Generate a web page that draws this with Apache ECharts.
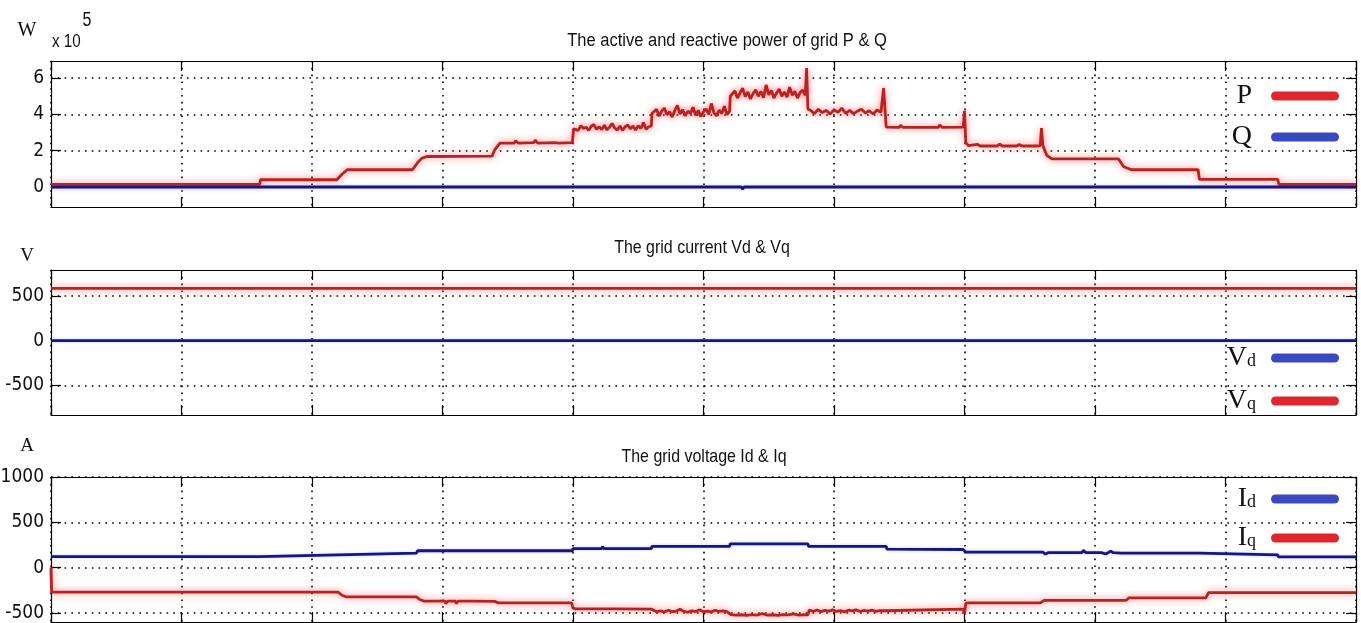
<!DOCTYPE html>
<html>
<head>
<meta charset="utf-8">
<script src="https://cdn.jsdelivr.net/npm/echarts@6/dist/echarts.min.js"></script>
<style>
  html, body { margin: 0; padding: 0; background: #fff; }
  #chart { width: 1361px; height: 623px; }
</style>
</head>
<body>
<div id="chart"></div>
<script>
// ---- Grid active / reactive power, [time s, value x 1e5 W] ----
const powerP = [
  [0, 0.15], [1.60, 0.15], [1.605, 0.40], [2.19, 0.40], [2.23, 0.70], [2.27, 0.95],
  [2.77, 0.95], [2.81, 1.35], [2.84, 1.58], [2.88, 1.68], [3.38, 1.70], [3.40, 2.05],
  [3.44, 2.42], [3.55, 2.42], [3.56, 2.55], [3.58, 2.42], [3.70, 2.44], [3.71, 2.58],
  [3.73, 2.42], [3.86, 2.44], [3.87, 2.55], [3.89, 2.42], [3.995, 2.45],
  [4.005, 3.20], [4.02, 3.28], [4.04, 3.12], [4.06, 3.38], [4.08, 3.22], [4.10, 3.30],
  [4.12, 3.12], [4.14, 3.35], [4.16, 3.44], [4.18, 3.18], [4.20, 3.32], [4.22, 3.16],
  [4.24, 3.40], [4.26, 3.15], [4.28, 3.30], [4.30, 3.50], [4.32, 3.24], [4.34, 3.14],
  [4.36, 3.36], [4.38, 3.12], [4.40, 3.32], [4.42, 3.42], [4.44, 3.20], [4.46, 3.36],
  [4.48, 3.14], [4.50, 3.38], [4.52, 3.22], [4.54, 3.55], [4.56, 3.18], [4.58, 3.32],
  [4.60, 3.36],
  [4.605, 4.05], [4.62, 4.10], [4.64, 4.28], [4.66, 3.90], [4.68, 4.18], [4.70, 4.35],
  [4.72, 3.98], [4.74, 4.15], [4.76, 3.85], [4.78, 4.22], [4.80, 4.50], [4.82, 4.02],
  [4.84, 4.26], [4.86, 3.92], [4.88, 4.18], [4.90, 4.05], [4.92, 4.40], [4.94, 3.95],
  [4.96, 4.22], [4.98, 3.88], [5.00, 4.15], [5.02, 4.30], [5.04, 4.00], [5.06, 4.60],
  [5.08, 4.08], [5.10, 3.92], [5.12, 4.24], [5.14, 4.04], [5.16, 4.45], [5.18, 3.98],
  [5.20, 4.18],
  [5.205, 5.00], [5.22, 5.08], [5.24, 5.30], [5.26, 4.90], [5.28, 5.18], [5.30, 5.45],
  [5.32, 4.98], [5.34, 5.24], [5.36, 4.85], [5.38, 5.15], [5.40, 5.35], [5.42, 5.00],
  [5.44, 5.26], [5.46, 4.92], [5.48, 5.62], [5.50, 5.08], [5.52, 5.32], [5.54, 4.90],
  [5.56, 5.18], [5.58, 5.40], [5.60, 5.00], [5.62, 5.24], [5.64, 4.95], [5.66, 5.50],
  [5.68, 5.06], [5.70, 5.28], [5.72, 4.90], [5.74, 5.20], [5.76, 5.34], [5.78, 5.05],
  [5.79, 6.55], [5.80, 4.30],
  [5.82, 4.22], [5.85, 4.04], [5.88, 4.28], [5.91, 4.10], [5.94, 4.22], [5.97, 4.02],
  [6.00, 4.25], [6.03, 4.12], [6.06, 4.34], [6.09, 4.06], [6.12, 4.22], [6.15, 4.04],
  [6.18, 4.18], [6.21, 4.28], [6.24, 4.08], [6.27, 4.20], [6.30, 4.02], [6.33, 4.24],
  [6.36, 4.12], [6.38, 5.45], [6.40, 3.30],
  [6.50, 3.28], [6.51, 3.40], [6.53, 3.28], [6.62, 3.28], [6.63, 3.38], [6.65, 3.28],
  [6.80, 3.28], [6.81, 3.42], [6.83, 3.28], [6.99, 3.30], [7.00, 4.20], [7.01, 2.45],
  [7.03, 2.28], [7.10, 2.35], [7.12, 2.26], [7.25, 2.26], [7.27, 2.36], [7.29, 2.26],
  [7.40, 2.26], [7.42, 2.34], [7.44, 2.26], [7.55, 2.26], [7.56, 2.36], [7.58, 2.28],
  [7.59, 3.25], [7.60, 2.30], [7.63, 1.75], [7.67, 1.55], [8.18, 1.55], [8.22, 1.12],
  [8.28, 0.95], [8.48, 0.95], [8.49, 1.02], [8.51, 0.95], [8.79, 0.95], [8.80, 0.42],
  [9.40, 0.42], [9.41, 0.15], [10, 0.15]
];
const powerQ = [
  [0, 0], [5.29, 0], [5.30, -0.12], [5.31, 0], [5.65, 0], [5.66, -0.10], [5.67, 0],
  [5.73, 0], [5.74, -0.10], [5.75, 0], [10, 0]
];

// ---- Grid dq voltages, [time s, V] ----
const voltVd = [[0, 0], [10, 0]];
const voltVq = [[0, 585], [10, 585]];

// ---- Grid dq currents, [time s, A] ----
const currId = [
  [0, 122], [1.60, 122], [1.605, 141], [2.20, 141], [2.205, 159], [2.80, 159], [2.81, 186],
  [3.50, 186], [3.505, 203], [3.52, 186], [3.62, 186], [3.625, 200], [3.64, 186],
  [3.78, 186], [3.785, 204], [3.80, 186], [3.86, 186], [3.865, 200], [3.88, 186],
  [3.995, 186], [4.00, 209], [4.22, 209], [4.225, 232], [4.24, 209], [4.60, 209],
  [4.605, 235], [5.20, 235], [5.205, 263], [5.22, 248], [5.24, 261], [5.80, 261],
  [5.805, 235], [6.40, 235], [6.405, 205], [6.99, 200], [7.00, 222], [7.01, 170],
  [7.60, 170], [7.62, 150], [7.64, 165], [7.90, 165], [7.91, 190], [7.93, 165],
  [8.02, 165], [8.03, 185], [8.05, 165], [8.08, 150], [8.10, 165], [8.12, 182],
  [8.14, 165], [8.20, 160], [8.80, 160], [8.805, 141], [9.40, 141], [9.405, 118], [10, 118]
];
const currIq = [
  [0, 0], [0.005, -270], [2.20, -270], [2.23, -305], [2.26, -322], [2.80, -322],
  [2.83, -355], [2.86, -370], [3.02, -370], [3.025, -398], [3.04, -370], [3.10, -370],
  [3.105, -396], [3.12, -370], [3.22, -370], [3.225, -392], [3.24, -370], [3.40, -372],
  [3.43, -390], [3.99, -390], [4.00, -448], [4.02, -455], [4.30, -456], [4.31, -470],
  [4.33, -456], [4.60, -458],
  [4.61, -480], [4.64, -486], [4.67, -478], [4.70, -488], [4.73, -470], [4.76, -484],
  [4.79, -482], [4.82, -460], [4.85, -484], [4.88, -490], [4.91, -478], [4.94, -485],
  [4.97, -465], [5.00, -486], [5.03, -480], [5.06, -488], [5.09, -470], [5.12, -484],
  [5.15, -478], [5.18, -486],
  [5.21, -518], [5.25, -524], [5.29, -520], [5.33, -526], [5.37, -518], [5.41, -523],
  [5.45, -508], [5.49, -524], [5.53, -520], [5.57, -527], [5.61, -518], [5.65, -522],
  [5.69, -510], [5.73, -525], [5.77, -520], [5.80, -522],
  [5.81, -470], [5.84, -482], [5.87, -468], [5.90, -485], [5.93, -472], [5.96, -480],
  [5.99, -466], [6.02, -484], [6.05, -474], [6.08, -488], [6.11, -470], [6.14, -478],
  [6.17, -466], [6.20, -484], [6.23, -472], [6.26, -480], [6.29, -468], [6.32, -482],
  [6.35, -474], [6.39, -476],
  [6.40, -455], [6.99, -458], [7.00, -505], [7.01, -392], [7.03, -388], [7.58, -390],
  [7.59, -410], [7.61, -362], [8.24, -360], [8.26, -333], [8.85, -333], [8.87, -276],
  [10, -276]
];

// ---- Axis ranges and tick values ----
const timeRange = [0, 10];
const powerRange = [-1.1, 6.94];
const voltRange = [-830, 790];
const currRange = [-600, 1000];
const powerTicks = [0, 2, 4, 6];
const voltTicks = [-500, 0, 500];
const currTicks = [-500, 0, 500, 1000];

const SERIF = "'Liberation Serif', 'DejaVu Serif', serif";
const NARROW = "'Liberation Sans Narrow', 'DejaVu Sans Condensed', 'Liberation Sans', sans-serif";
const SANS = "'Liberation Sans', Arial, sans-serif";
const RED = '#b82222';
const BLUE = '#16167e';
const capsule = 'path://M4.5,0H63.5A4.5,4.5,0,0,1,63.5,9H4.5A4.5,4.5,0,0,1,4.5,0Z';

const panels = [
  { top: 61, height: 146, range: powerRange, ticks: powerTicks },
  { top: 270, height: 145, range: voltRange, ticks: voltTicks },
  { top: 477, height: 145, range: currRange, ticks: currTicks }
];

const dotted = { color: '#000', width: 1.6, type: [1.6, 5.2] };
const frameLine = { show: true, onZero: false, lineStyle: { color: '#000', width: 1.2 } };
const innerTick = { show: true, inside: true, length: 10, lineStyle: { color: '#000', width: 1.2 } };

const grid = panels.map(p => ({
  left: 51, right: 5, top: p.top, height: p.height,
  containLabel: false, outerBoundsMode: 'none'
}));

const xAxis = [];
const yAxis = [];
panels.forEach((p, i) => {
  xAxis.push({
    type: 'value', gridIndex: i, min: timeRange[0], max: timeRange[1], interval: 1,
    position: 'bottom', axisLine: frameLine, axisTick: innerTick,
    axisLabel: { show: false }, splitLine: { show: true, lineStyle: dotted }
  });
  yAxis.push({
    type: 'value', gridIndex: i, min: p.range[0], max: p.range[1], position: 'left',
    axisLine: frameLine,
    axisTick: Object.assign({ customValues: p.ticks }, innerTick),
    axisLabel: {
      customValues: p.ticks, margin: 7, color: '#111',
      fontFamily: NARROW, fontSize: 19, formatter: v => String(v)
    },
    splitLine: { show: true, lineStyle: dotted }
  });
});
// mirrored frame axes (top and right) carrying inward ticks
panels.forEach((p, i) => {
  xAxis.push({
    type: 'value', gridIndex: i, min: timeRange[0], max: timeRange[1], interval: 1,
    position: 'top', axisLine: frameLine, axisTick: innerTick,
    axisLabel: { show: false }, splitLine: { show: false }
  });
  yAxis.push({
    type: 'value', gridIndex: i, min: p.range[0], max: p.range[1], position: 'right',
    axisLine: frameLine,
    axisTick: Object.assign({ customValues: p.ticks }, innerTick),
    axisLabel: { show: false }, splitLine: { show: false }
  });
});

function trace(name, data, idx, color, glow) {
  return {
    name, type: 'line', xAxisIndex: idx, yAxisIndex: idx, data,
    showSymbol: false, symbol: 'none', sampling: null, animation: false,
    itemStyle: { color },
    lineStyle: { color, width: 2.8, shadowBlur: glow ? 7 : 3, shadowColor: glow || 'rgba(90,90,255,0.35)' }
  };
}
const pinkGlow = 'rgba(255,70,70,0.75)';

const legendText = {
  color: '#111',
  rich: {
    mp: { fontFamily: SERIF, fontSize: 28, lineHeight: 30, padding: [0, 14, 0, 0] },
    m: { fontFamily: SERIF, fontSize: 28, lineHeight: 30 },
    sp: { fontFamily: SERIF, fontSize: 18, lineHeight: 30, padding: [6, 10, 0, 0] }
  }
};
function legendLabel(name) {
  if (name.length === 1) return '{mp|' + name + '}';
  return '{m|' + name[0] + '}{sp|' + name.slice(1) + '}';
}
function legendBox(names, colors, top, gap) {
  return {
    data: names.map((n, k) => ({ name: n, itemStyle: { color: colors[k] } })),
    orient: 'vertical', right: 22, top, align: 'right', padding: 0,
    itemWidth: 68, itemHeight: 9, itemGap: gap, icon: capsule,
    selectedMode: false, textStyle: legendText, formatter: legendLabel
  };
}
const legRed = '#e0262c';
const legBlue = '#3a48c2';

function label(text, x, y, font, align, sx) {
  return {
    type: 'text', x, y, scaleX: sx || 1, silent: true,
    style: { text, font, fill: '#111', textAlign: align || 'center', textVerticalAlign: 'middle' }
  };
}

const option = {
  backgroundColor: '#fff',
  animation: false,
  grid, xAxis, yAxis,
  legend: [
    legendBox(['P', 'Q'], [legRed, legBlue], 82, 13),
    legendBox(['Vd', 'Vq'], [legBlue, legRed], 344, 15),
    legendBox(['Id', 'Iq'], [legBlue, legRed], 485, 11)
  ],
  graphic: [
    label('The active and reactive power of grid P & Q', 727, 41, '19px ' + SANS, 'center', 0.87),
    label('The grid current Vd & Vq', 702, 248, '19px ' + SANS, 'center', 0.84),
    label('The grid voltage Id & Iq', 704, 457, '19px ' + SANS, 'center', 0.84),
    label('W', 27, 31, '20px ' + SERIF),
    label('x 10', 52, 42, '19px ' + SANS, 'left', 0.8),
    label('5', 87, 20, '20px ' + SANS, 'center', 0.8),
    label('V', 27, 256, '19px ' + SERIF),
    label('A', 27, 446, '19px ' + SERIF)
  ],
  series: [
    trace('P', powerP, 0, RED, pinkGlow),
    trace('Q', powerQ, 0, BLUE),
    trace('Vd', voltVd, 1, BLUE),
    trace('Vq', voltVq, 1, RED, pinkGlow),
    trace('Id', currId, 2, BLUE),
    trace('Iq', currIq, 2, RED, pinkGlow)
  ]
};

const chart = echarts.init(document.getElementById('chart'), null, { renderer: 'canvas' });
chart.setOption(option);
</script>
</body>
</html>
